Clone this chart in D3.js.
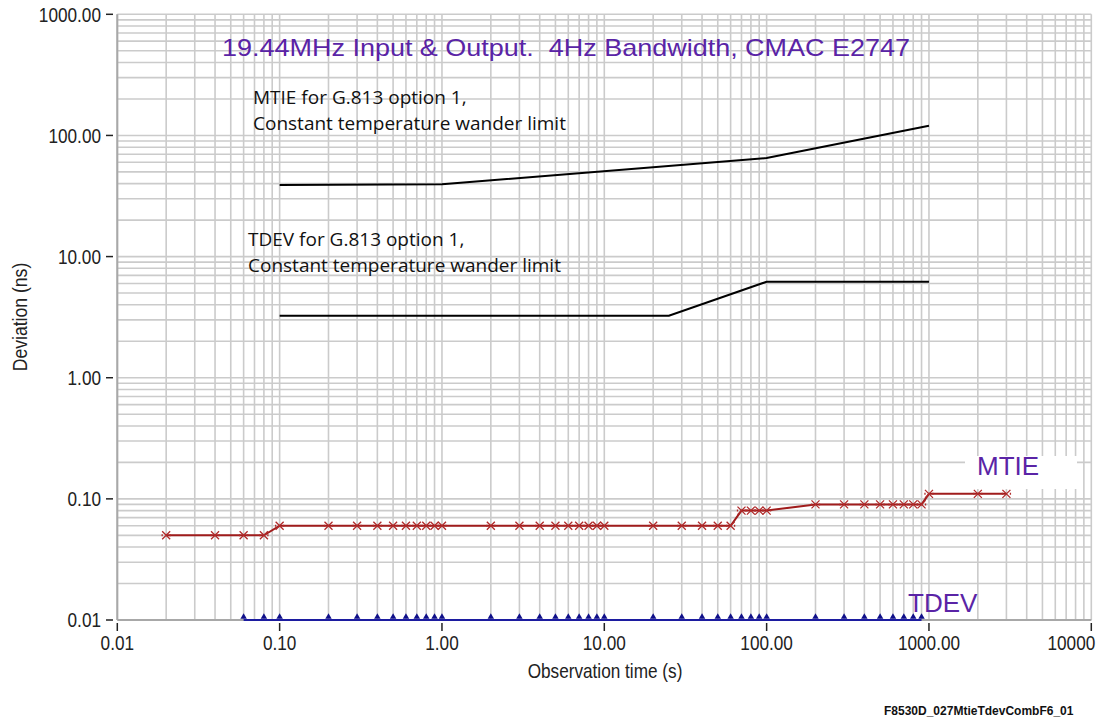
<!DOCTYPE html>
<html>
<head>
<meta charset="utf-8">
<script src="https://cdn.jsdelivr.net/npm/d3@7"></script>
<style>
  body { margin: 0; background: #fff; }
  svg text { white-space: pre; }
</style>
</head>
<body>
<div id="target"></div>
<script>
const width = 1104,
  height = 723;

// observation time (s) and deviation (ns)
const mtieTau = [0.02, 0.04, 0.06, 0.08, 0.1, 0.2, 0.3, 0.4, 0.5, 0.6, 0.7, 0.8, 0.9, 1,
  2, 3, 4, 5, 6, 7, 8, 9, 10, 20, 30, 40, 50, 60, 70, 80, 90, 100,
  200, 300, 400, 500, 600, 700, 800, 900, 1000, 2000, 3000];
const mtieDev = [0.05, 0.05, 0.05, 0.05, 0.06, 0.06, 0.06, 0.06, 0.06, 0.06, 0.06, 0.06, 0.06, 0.06,
  0.06, 0.06, 0.06, 0.06, 0.06, 0.06, 0.06, 0.06, 0.06, 0.06, 0.06, 0.06, 0.06, 0.06, 0.08, 0.08, 0.08, 0.08,
  0.09, 0.09, 0.09, 0.09, 0.09, 0.09, 0.09, 0.09, 0.11, 0.11, 0.11];

const tdevTau = [0.06, 0.08, 0.1, 0.2, 0.3, 0.4, 0.5, 0.6, 0.7, 0.8, 0.9, 1,
  2, 3, 4, 5, 6, 7, 8, 9, 10, 20, 30, 40, 50, 60, 70, 80, 90, 100,
  200, 300, 400, 500, 600, 700, 800, 900];
const tdevDev = tdevTau.map(() => 0.01);

const mtieLimitTau = [0.1, 1, 100, 1000];
const mtieLimitDev = [39, 39.5, 65, 120];
const tdevLimitTau = [0.1, 25, 100, 1000];
const tdevLimitDev = [3.25, 3.25, 6.2, 6.2];

const xTicks = [0.01, 0.1, 1, 10, 100, 1000, 10000];
const xTickLabels = ["0.01", "0.10", "1.00", "10.00", "100.00", "1000.00", "10000"];
const yTicks = [0.01, 0.1, 1, 10, 100, 1000];
const yTickLabels = ["0.01", "0.10", "1.00", "10.00", "100.00", "1000.00"];

const purple = "#5a24a6";
const sans = "'Liberation Sans', Arial, sans-serif";
const squeeze = 0.86; // old narrow dialog font look

const x = d3.scaleLog().domain([0.01, 10000]).range([117.3, 1091.3]);
const y = d3.scaleLog().domain([0.01, 1000]).range([620, 14.3]);

const svg = d3.select("#target").append("svg")
  .attr("width", width)
  .attr("height", height);

// minor + major grid
const xGrid = [], yGrid = [];
for (let e = -2; e < 4; e++) for (let m = 1; m < 10; m++) xGrid.push(m * Math.pow(10, e));
xGrid.push(10000);
for (let e = -2; e < 3; e++) for (let m = 1; m < 10; m++) yGrid.push(m * Math.pow(10, e));
yGrid.push(1000);

const grid = svg.append("g")
  .attr("stroke", "#cbcbcb")
  .attr("stroke-width", 1.6);

grid.selectAll(".vg")
  .data(xGrid)
  .enter()
  .append("line")
  .attr("x1", (d) => x(d)).attr("x2", (d) => x(d))
  .attr("y1", y(0.01)).attr("y2", y(1000));

grid.selectAll(".hg")
  .data(yGrid)
  .enter()
  .append("line")
  .attr("x1", x(0.01)).attr("x2", x(10000))
  .attr("y1", (d) => y(d)).attr("y2", (d) => y(d));

// white patch behind MTIE label
svg.append("rect")
  .attr("x", 965).attr("y", 456)
  .attr("width", 112).attr("height", 33)
  .attr("fill", "#fff");

// axes lines
svg.append("line")
  .attr("x1", x(0.01)).attr("x2", x(0.01))
  .attr("y1", y(1000)).attr("y2", y(0.01))
  .attr("stroke", "#a8a8a8").attr("stroke-width", 2);
svg.append("line")
  .attr("x1", x(0.01)).attr("x2", x(10000))
  .attr("y1", y(0.01)).attr("y2", y(0.01))
  .attr("stroke", "#a8a8a8").attr("stroke-width", 2);

// y ticks
const yAxis = svg.append("g");
yAxis.selectAll("line")
  .data(yTicks)
  .enter()
  .append("line")
  .attr("x1", 106).attr("x2", 113)
  .attr("y1", (d) => y(d)).attr("y2", (d) => y(d))
  .attr("stroke", "#222").attr("stroke-width", 1.5);
yAxis.selectAll("text")
  .data(yTicks)
  .enter()
  .append("text")
  .attr("transform", (d) => `translate(101,${y(d)}) scale(${squeeze},1)`)
  .attr("dy", "0.36em")
  .attr("text-anchor", "end")
  .style("font-family", sans)
  .style("font-size", "20px")
  .attr("fill", "#222")
  .text((d, i) => yTickLabels[i]);

// x ticks
const xAxis = svg.append("g");
xAxis.selectAll("line")
  .data(xTicks)
  .enter()
  .append("line")
  .attr("x1", (d) => x(d)).attr("x2", (d) => x(d))
  .attr("y1", 623).attr("y2", 631)
  .attr("stroke", "#222").attr("stroke-width", 1.5);
xAxis.selectAll("text")
  .data(xTicks)
  .enter()
  .append("text")
  .attr("transform", (d) => `translate(${d === 10000 ? x(d) + 4 : x(d)},650) scale(${squeeze},1)`)
  .attr("text-anchor", (d) => d === 10000 ? "end" : "middle")
  .style("font-family", sans)
  .style("font-size", "20px")
  .attr("fill", "#222")
  .text((d, i) => xTickLabels[i]);

// axis titles
svg.append("text")
  .attr("transform", `translate(605,678) scale(${squeeze},1)`)
  .attr("text-anchor", "middle")
  .style("font-family", sans)
  .style("font-size", "20px")
  .attr("fill", "#222")
  .text("Observation time (s)");

svg.append("text")
  .attr("transform", "translate(27,317) rotate(-90) scale(0.88,1)")
  .attr("text-anchor", "middle")
  .style("font-family", sans)
  .style("font-size", "20px")
  .attr("fill", "#222")
  .text("Deviation (ns)");

const line = d3.line()
  .x((d) => x(d[0]))
  .y((d) => y(d[1]));

// limit lines
svg.append("path")
  .datum(d3.zip(mtieLimitTau, mtieLimitDev))
  .attr("d", line)
  .attr("fill", "none")
  .attr("stroke", "#000")
  .attr("stroke-width", 2);
svg.append("path")
  .datum(d3.zip(tdevLimitTau, tdevLimitDev))
  .attr("d", line)
  .attr("fill", "none")
  .attr("stroke", "#000")
  .attr("stroke-width", 2);

// TDEV data
const tdevData = d3.zip(tdevTau, tdevDev);
svg.append("path")
  .datum(tdevData)
  .attr("d", line)
  .attr("fill", "none")
  .attr("stroke", "#1c1ca0")
  .attr("stroke-width", 2);
svg.selectAll(".tri")
  .data(tdevData)
  .enter()
  .append("path")
  .attr("d", d3.symbol().type(d3.symbolTriangle).size(18))
  .attr("transform", (d) => `translate(${x(d[0])},${y(d[1]) - 3})`)
  .attr("fill", "#10108a");

// MTIE data
const mtieData = d3.zip(mtieTau, mtieDev);
svg.append("path")
  .datum(mtieData)
  .attr("d", line)
  .attr("fill", "none")
  .attr("stroke", "#a01c1c")
  .attr("stroke-width", 2);
svg.selectAll(".cross")
  .data(mtieData)
  .enter()
  .append("path")
  .attr("transform", (d) => `translate(${x(d[0])},${y(d[1])})`)
  .attr("d", "M-4,-4L4,4M-4,4L4,-4M-4,-1V1M4,-1V1")
  .attr("fill", "none")
  .attr("stroke", "#b02a2a")
  .attr("stroke-width", 1.3);

// texts
svg.append("text")
  .attr("x", 222).attr("y", 56)
  .attr("textLength", 688)
  .attr("lengthAdjust", "spacingAndGlyphs")
  .style("font-family", sans)
  .style("font-size", "24px")
  .attr("fill", purple)
  .text("19.44MHz Input & Output.  4Hz Bandwidth, CMAC E2747");

svg.append("text")
  .attr("x", 977).attr("y", 475)
  .style("font-family", sans)
  .style("font-size", "26px")
  .attr("fill", purple)
  .text("MTIE");

svg.append("text")
  .attr("x", 908).attr("y", 612)
  .style("font-family", sans)
  .style("font-size", "26px")
  .attr("fill", purple)
  .text("TDEV");

const noteFont = "'Open Sans', 'Noto Sans', sans-serif";
[["MTIE for G.813 option 1,", 253, 104], ["Constant temperature wander limit", 253, 130],
 ["TDEV for G.813 option 1,", 248, 246], ["Constant temperature wander limit", 248, 272]]
  .forEach((t) => {
    svg.append("text")
      .attr("x", t[1]).attr("y", t[2])
      .style("font-family", noteFont)
      .style("font-size", "19px")
      .attr("fill", "#111")
      .text(t[0]);
  });

svg.append("text")
  .attr("x", 884).attr("y", 715)
  .style("font-family", sans)
  .style("font-size", "12px")
  .style("font-weight", "bold")
  .attr("fill", "#111")
  .text("F8530D_027MtieTdevCombF6_01");
</script>
</body>
</html>
